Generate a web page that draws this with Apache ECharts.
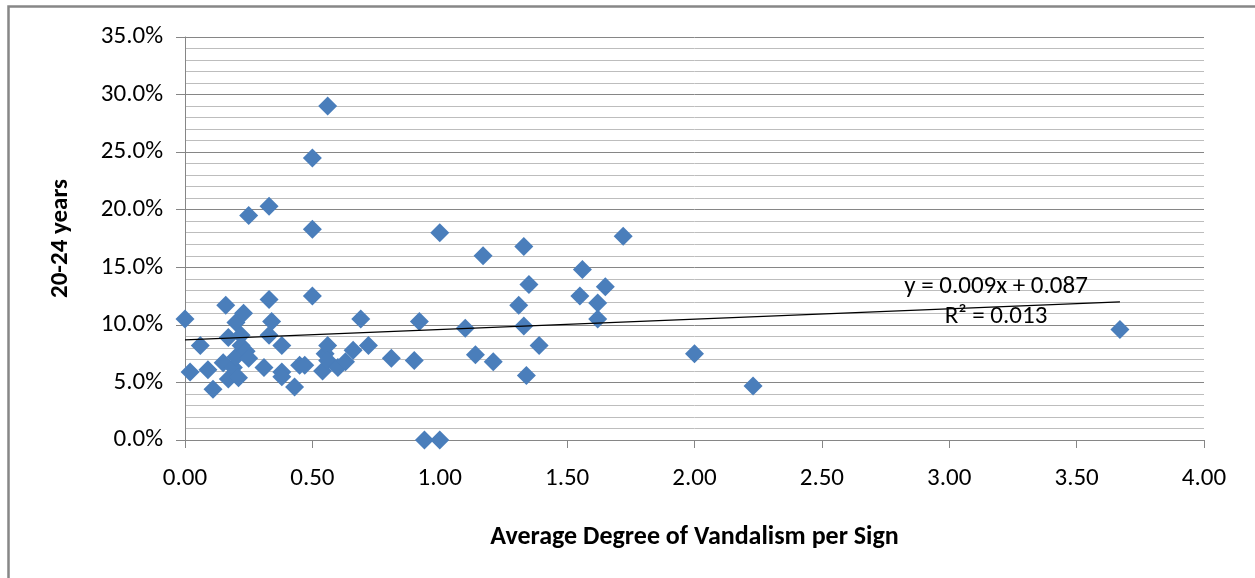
<!DOCTYPE html>
<html>
<head>
<meta charset="utf-8">
<title>20-24 years vs Vandalism</title>
<script src="https://cdn.jsdelivr.net/npm/echarts@6/dist/echarts.min.js"></script>
<style>
  html, body { margin: 0; padding: 0; background: #ffffff; }
  #scatterChart { width: 1255px; height: 578px; }
</style>
</head>
<body>
<div id="scatterChart"></div>
<script>
// average degree of vandalism per sign (x)
var vandalism = [
  0.00, 0.02, 0.06, 0.09, 0.11, 0.15, 0.16, 0.17, 0.17, 0.19,
  0.20, 0.20, 0.21, 0.22, 0.22, 0.23, 0.24, 0.25, 0.25, 0.31,
  0.33, 0.33, 0.33, 0.34, 0.38, 0.38, 0.38, 0.43, 0.45, 0.47,
  0.50, 0.50, 0.50, 0.54, 0.55, 0.56, 0.56, 0.56, 0.60, 0.63,
  0.66, 0.69, 0.72, 0.81, 0.90, 0.92, 0.94, 1.00, 1.00, 1.10,
  1.14, 1.17, 1.21, 1.31, 1.33, 1.33, 1.34, 1.35, 1.39, 1.55,
  1.56, 1.62, 1.62, 1.65, 1.72, 2.00, 2.23, 3.67
];
// share of 20-24 years (y)
var age2024 = [
  0.105, 0.059, 0.082, 0.061, 0.044, 0.067, 0.117, 0.089, 0.053, 0.063,
  0.102, 0.072, 0.054, 0.091, 0.082, 0.110, 0.077, 0.071, 0.195, 0.063,
  0.091, 0.203, 0.122, 0.103, 0.082, 0.059, 0.055, 0.046, 0.065, 0.065,
  0.245, 0.183, 0.125, 0.060, 0.075, 0.290, 0.082, 0.069, 0.063, 0.068,
  0.078, 0.105, 0.082, 0.071, 0.069, 0.103, 0.000, 0.000, 0.180, 0.097,
  0.074, 0.160, 0.068, 0.117, 0.168, 0.099, 0.056, 0.135, 0.082, 0.125,
  0.148, 0.119, 0.105, 0.133, 0.177, 0.075, 0.047, 0.096
];

// linear trendline as printed on the chart
var trendSlope = 0.009;
var trendIntercept = 0.087;
var trendR2 = 0.013;

var fontName = 'Carlito, "Open Sans", sans-serif';

function initChart(){
    var chart = echarts.init(document.getElementById('scatterChart'));

    var points = [];
    for (var i = 0; i < vandalism.length; i++) {
        points.push([vandalism[i], age2024[i]]);
    }

    // trendline runs from the smallest to the largest x
    var minX = Math.min.apply(null, vandalism);
    var maxX = Math.max.apply(null, vandalism);
    var trendData = [
        [minX, trendSlope * minX + trendIntercept],
        [maxX, trendSlope * maxX + trendIntercept]
    ];

    var option = {
        backgroundColor: '#ffffff',
        animation: false,
        grid: {
            left: 185,
            right: 51,
            top: 37,
            bottom: 138
        },
        xAxis: {
            type: 'value',
            min: 0,
            max: 4,
            interval: 0.5,
            name: 'Average Degree of Vandalism per Sign',
            nameLocation: 'middle',
            nameGap: 84,
            nameTextStyle: { fontFamily: fontName, fontSize: 26, fontWeight: 'bold', color: '#000' },
            axisLine: { show: true, onZero: false, lineStyle: { color: '#868686', width: 1 } },
            axisTick: { show: true, inside: false, length: 8, lineStyle: { color: '#868686' } },
            axisLabel: {
                margin: 26,
                fontFamily: fontName,
                fontSize: 25,
                color: '#000',
                formatter: function (v) { return v.toFixed(2); }
            },
            splitLine: { show: false }
        },
        yAxis: {
            type: 'value',
            min: 0,
            max: 0.35,
            interval: 0.05,
            name: '20-24 years',
            nameLocation: 'middle',
            nameGap: 112,
            nameRotate: 90,
            nameTextStyle: { fontFamily: fontName, fontSize: 25, fontWeight: 'bold', color: '#000' },
            axisLine: { show: true, lineStyle: { color: '#868686', width: 1 } },
            axisTick: { show: true, inside: false, length: 9, lineStyle: { color: '#868686' } },
            axisLabel: {
                margin: 22,
                fontFamily: fontName,
                fontSize: 25,
                color: '#000',
                formatter: function (v) { return (v * 100).toFixed(1) + '%'; }
            },
            splitLine: { show: true, lineStyle: { color: '#868686', width: 1 } },
            minorTick: { show: false, splitNumber: 5 },
            minorSplitLine: { show: true, lineStyle: { color: '#bdbdbd', width: 1 } }
        },
        series: [
            {
                name: '20-24 years',
                type: 'scatter',
                symbol: 'diamond',
                symbolSize: 19,
                itemStyle: { color: '#4a7ebb', opacity: 1 },
                data: points,
                z: 3
            },
            {
                name: 'Linear trend',
                type: 'line',
                symbol: 'none',
                silent: true,
                lineStyle: { color: '#000000', width: 1.2 },
                data: trendData,
                z: 4
            }
        ],
        graphic: [
            {
                // outer chart frame
                type: 'rect',
                shape: { x: 8.5, y: 6.5, width: 1260, height: 590 },
                style: { fill: 'none', stroke: '#878787', lineWidth: 2.5 },
                silent: true
            },
            {
                type: 'text',
                x: 996,
                y: 287,
                style: {
                    text: 'y = ' + trendSlope.toFixed(3) + 'x + ' + trendIntercept.toFixed(3),
                    font: '25px ' + fontName,
                    fill: '#000',
                    textAlign: 'center',
                    textVerticalAlign: 'middle'
                },
                z: 10
            },
            {
                type: 'text',
                x: 996,
                y: 317,
                style: {
                    text: 'R\u00b2 = ' + trendR2.toFixed(3),
                    font: '25px ' + fontName,
                    fill: '#000',
                    textAlign: 'center',
                    textVerticalAlign: 'middle'
                },
                z: 10
            }
        ]
    };

    chart.setOption(option);
}

initChart();
</script>
</body>
</html>
